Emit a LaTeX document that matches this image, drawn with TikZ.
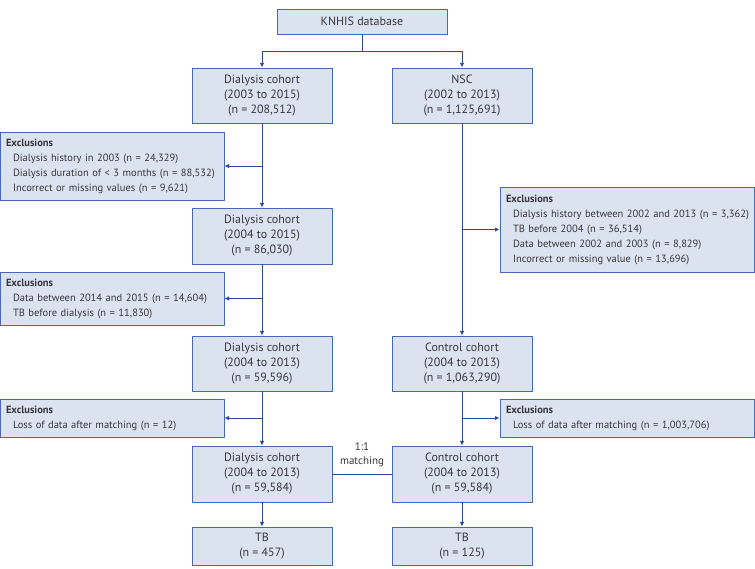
\documentclass[tikz,border=0pt]{standalone}
\usepackage{fontspec}
\setmainfont{PT Sans}
\usepackage{tikz}
\usetikzlibrary{arrows.meta}
\usepackage{xcolor}
\definecolor{boxfill}{RGB}{220,227,240}
\definecolor{boxline}{RGB}{72,104,180}
\definecolor{flowline}{RGB}{45,75,155}
\definecolor{txt}{RGB}{55,55,60}
\newcommand{\exline}[1]{\hspace*{7pt}\mbox{#1}}

\begin{document}
\begin{tikzpicture}[x=1pt,y=-1pt]
\tikzset{>={Latex[width=1.6mm,length=1.6mm]}}
\tikzstyle{box} =[draw=boxline, fill=boxfill, line width=0.9pt, text=txt, font=\fontsize{12}{15}\selectfont, align=center, inner sep=0pt, minimum width=140pt]
\tikzstyle{excl} =[box, font=\fontsize{10.5}{15}\selectfont, align=left, inner xsep=6pt, text width=212pt, minimum width=224pt]
\tikzstyle{excr} =[excl, text width=242pt, minimum width=254pt]
\useasboundingbox (0,0) rectangle (755,569);

\node[box,minimum width=170pt,minimum height=25pt](knhis) at (362,21.5){KNHIS database};
\node[box,minimum height=55pt](dc1) at (262,95.5){Dialysis cohort\\(2003 to 2015)\\(n = 208,512)};
\node[box,minimum height=55pt](nsc) at (462,95.5){NSC\\(2002 to 2013)\\(n = 1,125,691)};
\node[excl,minimum height=68pt](ex1) at (112,166){\textbf{Exclusions}\\\exline{Dialysis history in 2003 (n = 24,329)}\\\exline{Dialysis duration of < 3 months (n = 88,532)}\\\exline{Incorrect or missing values (n = 9,621)}};
\node[box,minimum height=56pt](dc2) at (262,236){Dialysis cohort\\(2004 to 2015)\\(n = 86,030)};
\node[excl,minimum height=53pt](ex2) at (112,298.5){\textbf{Exclusions}\\\exline{Data between 2014 and 2015 (n = 14,604)}\\\exline{TB before dialysis (n = 11,830)}};
\node[excr,minimum height=85pt](exr) at (627,229.5){\textbf{Exclusions}\\\exline{Dialysis history between 2002 and 2013 (n = 3,362)}\\\exline{TB before 2004 (n = 36,514)}\\\exline{Data between 2002 and 2003 (n = 8,829)}\\\exline{Incorrect or missing value (n = 13,696)}};
\node[box,minimum height=55pt](dc3) at (262,363.5){Dialysis cohort\\(2004 to 2013)\\(n = 59,596)};
\node[box,minimum height=55pt](cc3) at (462,363.5){Control cohort\\(2004 to 2013)\\(n = 1,063,290)};
\node[excl,minimum height=38pt](ex3) at (112,418){\textbf{Exclusions}\\\exline{Loss of data after matching (n = 12)}};
\node[excr,minimum height=38pt](ex4) at (627,418){\textbf{Exclusions}\\\exline{Loss of data after matching (n = 1,003,706)}};
\node[box,minimum height=56pt](dc4) at (262,474){Dialysis cohort\\(2004 to 2013)\\(n = 59,584)};
\node[box,minimum height=56pt](cc4) at (462,474){Control cohort\\(2004 to 2013)\\(n = 59,584)};
\node[box,minimum height=38pt](tb1) at (262,546){TB\\(n = 457)};
\node[box,minimum height=38pt](tb2) at (462,546){TB\\(n = 125)};
\coordinate (split) at (362,51);

% top split
\draw [flowline,line width=0.9pt] (knhis) -- (split);
\draw [->,flowline,line width=0.9pt] (split) -| (dc1);
\draw [->,flowline,line width=0.9pt] (split) -| (nsc);
% dialysis side
\draw [->,flowline,line width=0.9pt] (dc1) -- (dc2);
\draw [->,flowline,line width=0.9pt] (dc1.south |- ex1.east) -- (ex1.east);
\draw [->,flowline,line width=0.9pt] (dc2) -- (dc3);
\draw [->,flowline,line width=0.9pt] (dc2.south |- ex2.east) -- (ex2.east);
\draw [->,flowline,line width=0.9pt] (dc3) -- (dc4);
\draw [->,flowline,line width=0.9pt] (dc3.south |- ex3.east) -- (ex3.east);
\draw [->,flowline,line width=0.9pt] (dc4) -- (tb1);
% control side
\draw [->,flowline,line width=0.9pt] (nsc) -- (cc3);
\draw [->,flowline,line width=0.9pt] (nsc.south |- exr.west) -- (exr.west);
\draw [->,flowline,line width=0.9pt] (cc3) -- (cc4);
\draw [->,flowline,line width=0.9pt] (cc3.south |- ex4.west) -- (ex4.west);
\draw [->,flowline,line width=0.9pt] (cc4) -- (tb2);
% matching
\draw [flowline,line width=0.9pt] (dc4) -- node[above=3pt,text=txt,align=center,font=\fontsize{11}{14}\selectfont]{1:1\\matching} (cc4);
\end{tikzpicture}
\end{document}
